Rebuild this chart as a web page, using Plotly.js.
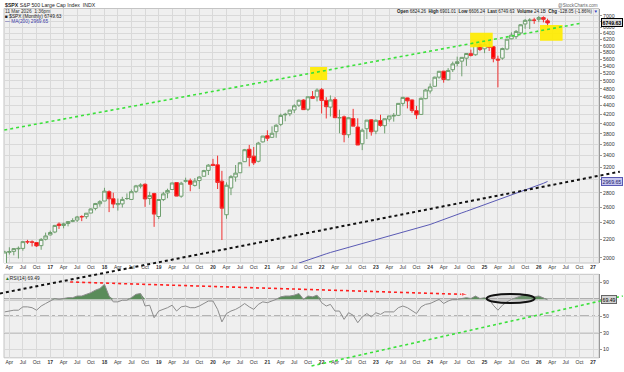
<!DOCTYPE html>
<html><head><meta charset="utf-8">
<script src="https://cdn.plot.ly/plotly-3.0.1.min.js"></script>
<style>html,body{margin:0;padding:0;background:#fff;}#chart{width:624px;height:372px;}</style>
</head><body><div id="chart"></div>
<script>
// ---------------- DATA ----------------
const firstMonth = '2016-03';
const open = [
1937,2057,2067,2094,2099,2173,2171,2164,2129,2201,
2251,2285,2381,2363,2388,2415,2431,2477,2474,2521,2583,2645,
2683,2816,2715,2633,2643,2718,2705,2821,2897,2926,2718,2790,
2476,2703,2798,2848,2953,2751,2972,2980,2909,2983,3050,3144,
3244,3236,2974,2499,2870,3038,3106,3289,3508,3385,3296,3645,
3764,3732,3842,3992,4193,4216,4300,4407,4528,4317,4610,4602,
4778,4519,4364,4540,4131,4150,3782,4113,3937,3610,3902,4087,
3853,4070,3964,4102,4166,4183,4450,4578,4530,4285,4202,4559,
4745,4861,5098,5258,5029,5298,5471,5538,5624,5758,5724,6040,
5904,5970,5969,5597,5625,5897,6218,6288,6410,6715,6840,6850,
6878,6940,6824.26];
const high = [
2073,2111,2103,2120,2178,2194,2188,2169,2214,2278,
2301,2371,2401,2399,2419,2454,2484,2491,2520,2582,2657,2695,
2873,2835,2801,2718,2742,2791,2848,2917,2941,2940,2815,2800,
2708,2813,2860,2950,2954,2964,3028,3014,3022,3050,3154,3248,
3338,3394,3137,2955,3068,3233,3280,3514,3588,3549,3646,3760,
3870,3950,3994,4219,4238,4302,4430,4538,4546,4608,4743,4808,
4819,4595,4637,4593,4307,4178,4140,4325,4119,3906,4080,4101,
4095,4195,4110,4170,4232,4458,4607,4584,4541,4393,4587,4794,
4932,5111,5265,5264,5342,5524,5669,5652,5768,5879,6053,6100,
6129,6147,5987,5696,5939,6215,6428,6508,6700,6890,6920,6935,
7002,6985,6901.01];
const low = [
1937,2033,2025,1992,2074,2148,2120,2115,2084,2188,
2245,2271,2322,2329,2353,2405,2407,2417,2446,2520,2557,2605,
2683,2533,2586,2553,2594,2698,2698,2796,2864,2603,2631,2347,
2444,2682,2722,2848,2751,2729,2952,2822,2892,2856,3050,3070,
3215,2855,2192,2447,2766,2966,3101,3284,3210,3234,3279,3633,
3663,3725,3723,3955,4056,4164,4233,4367,4306,4279,4560,4495,
4223,4115,4157,4124,3811,3637,3722,3955,3585,3492,3699,3765,
3794,3944,3809,4049,4048,4167,4385,4335,4238,4104,4197,4547,
4682,4853,5057,4954,5012,5235,5391,5120,5403,5674,5697,5833,
5773,5837,5505,4835,5578,5862,6201,6212,6360,6550,6540,6720,
6780,6770,6606.24];
const close = [
2060,2065,2097,2099,2174,2171,2168,2126,2199,2239,
2279,2364,2363,2384,2412,2423,2470,2472,2519,2575,2648,2674,
2824,2714,2641,2648,2705,2718,2816,2902,2914,2712,2760,2507,
2704,2784,2834,2946,2752,2942,2980,2926,2977,3038,3141,3231,
3226,2954,2585,2912,3044,3100,3271,3500,3363,3270,3622,3756,
3714,3811,3973,4181,4204,4298,4395,4523,4308,4605,4567,4766,
4516,4374,4530,4132,4132,3785,4130,3955,3586,3872,4080,3840,
4077,3970,4109,4169,4180,4450,4589,4508,4288,4194,4568,4770,
4846,5096,5254,5036,5278,5460,5522,5648,5762,5705,6032,5882,
6041,5955,5612,5569,5912,6205,6339,6460,6688,6840,6849,6845,
6940,6878,6749.63];
const rsi = [
55,56,57,57,61,61,60,57,62,65,
68,71,70,71,72,72,74,74,76,78,81,83,
88,74,67,67,69,69,72,76,77,62,63,48,
56,58,60,63,56,61,62,60,60,62,65,68,
68,58,43,53,56,58,61,65,61,58,64,67,
66,68,70,73,74,74,75,77,70,74,73,75,
66,62,64,56,56,46,54,51,42,49,53,49,
54,52,55,55,55,60,62,60,56,53,61,64,
65,68,70,65,68,70,70,71,72,71,74,71,
72,70,63,57,63,67,70,72,74,76,75,73,
74,72,69.49];
const maFirstMonth = '2021-08';
const ma200 = [
1945,1962,1979,1996,2013,
2027,2041,2055,2069,2083,2097,2111,2125,2139,2153,2167,2181,
2195,2210,2224,2239,2253,2268,2282,2297,2311,2326,2340,2355,
2376,2397,2418,2439,2460,2481,2502,2523,2544,2565,2586,2607,
2630,2653,2676,2699,2722,2745,2768,2791,2814,2837,2860,2883,
2912,2941,2969.65];
// analyst drawings (date, value)
const upperTrendDates = ['2016-02-27','2026-10-18'];
const upperTrendVals  = [3876, 6747];
const lowerTrendDates = ['2016-01-29','2027-06-30'];
const lowerTrendVals  = [1662, 3124];
const rsiTrendDates = ['2021-10-25','2027-07-20'];
const rsiTrendVals  = [-9.8, 74];
const divergenceDates = ['2017-05-15','2024-09-12'];
const divergenceVals  = [90.8, 75.8];
const highlightX = [['2021-10-15','2022-02-07'],['2024-09-26','2025-02-25'],['2026-01-09','2026-06-10']];
const highlightY = [[5022,5372],[5949,6418],[6155,6678]];
const ellipseX = ['2025-01-15','2025-12-04'];
const ellipseY = [65.5, 76.5];
const priceTicks = [2000,2200,2400,2600,2800,3000,3200,3400,3600,3800,4000,4200,4400,4600,4800,5000,5200,5400,5600,5800,6000,6200,6400,6600,6800,7000];
const priceTicksHidden = [3000,6800];   // covered by value boxes in the reference
const rsiTicks = [10,30,50,70,90];
const rsiTicksHidden = [70];
const quarterNames = ['Apr','Jul','Oct'];
const yearLabels = ['17','18','19','20','21','22','23','24','25','26','27'];

// ---------------- helpers ----------------
function monthSeq(start, n){
  const out=[]; let y=+start.slice(0,4), m=+start.slice(5,7);
  for(let i=0;i<n;i++){ out.push(y+'-'+String(m).padStart(2,'0')+'-01'); m++; if(m>12){m=1;y++;} }
  return out;
}
const months = monthSeq(firstMonth, close.length);
const maMonths = monthSeq(maFirstMonth, ma200.length);

const tickVals=[], tickText=[];
for(let y=2016;y<=2027;y++){
  if(y>2016){ tickVals.push(y+'-01-01'); tickText.push('<b>'+yearLabels[y-2017]+'</b>'); }
  if(y<2027){ ['04','07','10'].forEach((mm,i)=>{ tickVals.push(y+'-'+mm+'-01'); tickText.push(quarterNames[i]); }); }
}

// ---------------- layout geometry ----------------
const W=624,H=372;
const PX_L=4, PX_R=599, MAIN_TOP=8.5, MAIN_BOT=263, RSI_TOP=274.3, RSI_BOT=357.8;
const xRange=['2016-02-25','2027-02-10'];
const priceRange=[1946,7275];
const xDom=[PX_L/W, PX_R/W];
const yDomMain=[1-MAIN_BOT/H, 1-MAIN_TOP/H];
const yDomRsi=[1-RSI_BOT/H, 1-RSI_TOP/H];
const t0=Date.parse(xRange[0]), t1=Date.parse(xRange[1]);
const msPerPx=(t1-t0)/(PX_R-PX_L);
const fmt=ms=>new Date(ms).toISOString().slice(0,19).replace('T',' ');
const x3Range=[fmt(t0-PX_L*msPerPx), fmt(t1+(W-PX_R)*msPerPx)];
const la=Math.log10(priceRange[0]), lb=Math.log10(priceRange[1]);
const lpp=(lb-la)/(MAIN_BOT-MAIN_TOP);
const y3Range=[la-(H-MAIN_BOT)*lpp, lb+MAIN_TOP*lpp];
const rpp=100/(RSI_BOT-RSI_TOP);
const y4Range=[0-(H-RSI_BOT)*rpp, 100+RSI_TOP*rpp];

const FONT='"Liberation Sans", Arial, sans-serif';
const GRID='#d9d9d9';

// ---------------- traces ----------------
const traces=[];
highlightX.forEach((hx,i)=>{
  const hy=highlightY[i];
  traces.push({type:'scatter', mode:'lines', x:[hx[0],hx[1],hx[1],hx[0],hx[0]], y:[hy[0],hy[0],hy[1],hy[1],hy[0]],
    xaxis:'x', yaxis:'y', fill:'toself', fillcolor:'rgba(255,236,0,0.92)', line:{width:0,color:'rgba(0,0,0,0)'}, hoverinfo:'skip'});
});
traces.push(
 {type:'candlestick', x:months, open:open, high:high, low:low, close:close, xaxis:'x', yaxis:'y',
  increasing:{line:{color:'#6f9f6f',width:1}, fillcolor:'#f6f6f6'},
  decreasing:{line:{color:'#f03030',width:1}, fillcolor:'#ff0000'},
  whiskerwidth:0, hoverinfo:'skip'},
 {type:'scatter', mode:'lines', x:maMonths, y:ma200, xaxis:'x', yaxis:'y', line:{color:'#5a5ab4',width:1}, hoverinfo:'skip'},
 {type:'scatter', mode:'lines', x:upperTrendDates, y:upperTrendVals, xaxis:'x', yaxis:'y', line:{color:'#3be03b',width:1.6,dash:'dot'}, hoverinfo:'skip'},
 {type:'scatter', mode:'lines', x:months, y:months.map(()=>70), xaxis:'x2', yaxis:'y2', line:{width:0,color:'rgba(0,0,0,0)'}, hoverinfo:'skip'},
 {type:'scatter', mode:'lines', x:months, y:rsi.map(v=>Math.max(v,70)), xaxis:'x2', yaxis:'y2', fill:'tonexty', fillcolor:'#5a8c5a', line:{width:0,color:'rgba(0,0,0,0)'}, hoverinfo:'skip'},
 {type:'scatter', mode:'lines', x:months, y:rsi, xaxis:'x2', yaxis:'y2', line:{color:'#8c8c8c',width:1}, hoverinfo:'skip'},
 {type:'scatter', mode:'lines+markers', x:divergenceDates, y:divergenceVals, xaxis:'x2', yaxis:'y2',
  line:{color:'#ff2020',width:1.6,dash:'dot'}, marker:{symbol:['circle','arrow'],size:[0,7],color:'#ff2020',angleref:'previous'}, hoverinfo:'skip'},
 {type:'scatter', mode:'lines', x:lowerTrendDates, y:lowerTrendVals, xaxis:'x3', yaxis:'y3', line:{color:'#111',width:2,dash:'dot'}, hoverinfo:'skip'},
 {type:'scatter', mode:'lines', x:rsiTrendDates, y:rsiTrendVals, xaxis:'x3', yaxis:'y4', line:{color:'#3be03b',width:1.6,dash:'dot'}, hoverinfo:'skip'}
);

// ---------------- shapes ----------------
const shapes=[
 {type:'rect', xref:'paper', yref:'paper', x0:xDom[0], x1:xDom[1], y0:yDomMain[0], y1:yDomMain[1], fillcolor:'#efefef', line:{color:'#c4c4c4',width:1}, layer:'below'},
 {type:'rect', xref:'paper', yref:'paper', x0:xDom[0], x1:xDom[1], y0:yDomRsi[0], y1:yDomRsi[1], fillcolor:'#efefef', line:{color:'#c4c4c4',width:1}, layer:'below'},
 {type:'line', xref:'x2 domain', yref:'y2', x0:0, x1:1, y0:70, y1:70, line:{color:'#6e6e6e',width:1.6}, layer:'below'},
 {type:'line', xref:'x2 domain', yref:'y2', x0:0, x1:1, y0:50, y1:50, line:{color:'#6e6e6e',width:1,dash:'dashdot'}, layer:'below'},
 {type:'line', xref:'x2 domain', yref:'y2', x0:0, x1:1, y0:30, y1:30, line:{color:'#a0a0a0',width:1.6}, layer:'below'},
 {type:'circle', xref:'x2', yref:'y2', x0:ellipseX[0], x1:ellipseX[1], y0:ellipseY[0], y1:ellipseY[1], line:{color:'#111',width:2}, fillcolor:'rgba(160,160,160,0.25)', layer:'above'}
];

// ---------------- annotations ----------------
const ann=(x,y,text,opt)=>Object.assign({xref:'paper',yref:'paper',x:x/W,y:1-y/H,text:text,showarrow:false,xanchor:'left',yanchor:'middle',font:{family:FONT,size:5,color:'#222'}},opt||{});
const lastClose=close[close.length-1], lastMA=ma200[ma200.length-1], lastRSI=rsi[rsi.length-1];
const annotations=[
 ann(3,5.5,'<b>$SPX</b> S&P 500 Large Cap Index  INDX',{font:{family:FONT,size:5.2,color:'#222'}}),
 ann(3,11.5,'11 Mar 2026  1:36pm',{font:{family:FONT,size:4.8,color:'#333'}}),
 ann(600,6,'@StockCharts.com',{xanchor:'right',font:{family:FONT,size:4.6,color:'#666'}}),
 ann(600,12,'<b>Open</b> 6824.26  <b>High</b> 6901.01  <b>Low</b> 6606.24  <b>Last</b> 6749.63  <b>Volume</b> 24.1B  <b>Chg</b> -128.05 (-1.86%) <span style="color:#3040c0">▼</span>',{xanchor:'right',font:{family:FONT,size:4.5,color:'#222'}}),
 ann(3,16.5,'<span style="color:#222">■</span> $SPX (Monthly) '+lastClose.toFixed(2),{font:{family:FONT,size:4.8,color:'#222'}}),
 ann(3,21.5,'— MA(200) '+lastMA.toFixed(2),{font:{family:FONT,size:4.8,color:'#3a3aa8'}}),
 ann(3,278,'<span style="color:#2a7a2a">▲</span>RSI(14) '+lastRSI.toFixed(2),{font:{family:FONT,size:4.8,color:'#222'}}),
 {xref:'paper',yref:'y',x:600.5/W,y:Math.log10(lastClose),text:'<b>'+lastClose.toFixed(2)+'</b>',showarrow:false,xanchor:'left',yanchor:'middle',
  font:{family:FONT,size:5.2,color:'#000'},bgcolor:'#dcdcdc',bordercolor:'#000',borderwidth:1,borderpad:0.5},
 {xref:'paper',yref:'y',x:600.5/W,y:Math.log10(lastMA),text:lastMA.toFixed(2),showarrow:false,xanchor:'left',yanchor:'middle',
  font:{family:FONT,size:5.2,color:'#1a1a6a'},bgcolor:'#c8c8f0',bordercolor:'#5a5ab4',borderwidth:1,borderpad:0.5},
 {xref:'paper',yref:'y2',x:600.5/W,y:lastRSI,text:lastRSI.toFixed(2),showarrow:false,xanchor:'left',yanchor:'middle',
  font:{family:FONT,size:5.2,color:'#000'},bgcolor:'#d4d4d4',bordercolor:'#666',borderwidth:1,borderpad:0.5}
];

const xBase={type:'date', range:xRange, domain:xDom, tickvals:tickVals, ticktext:tickText, tickfont:{family:FONT,size:5,color:'#333'},
  showgrid:true, gridcolor:GRID, gridwidth:1, zeroline:false, ticks:'', showline:false, fixedrange:true, tickangle:0, automargin:false};
const layout={
 width:W, height:H, margin:{l:0,r:0,t:0,b:0}, paper_bgcolor:'#ffffff', plot_bgcolor:'rgba(0,0,0,0)',
 showlegend:false, font:{family:FONT,size:5,color:'#333'}, boxgap:0.15, boxgroupgap:0,
 xaxis:Object.assign({},xBase,{anchor:'y', rangeslider:{visible:false}}),
 yaxis:{type:'log', domain:yDomMain, anchor:'x', range:[la,lb], side:'right', tickvals:priceTicks,
   ticktext:priceTicks.map(v=>priceTicksHidden.includes(v)?'':String(v)),
   tickfont:{family:FONT,size:5.2,color:'#333'}, showgrid:true, gridcolor:GRID, zeroline:false, ticks:'outside', ticklen:2, tickcolor:'#999',
   showline:true, linecolor:'#9a9a9a', linewidth:1, fixedrange:true, automargin:false},
 xaxis2:Object.assign({},xBase,{anchor:'y2', matches:'x'}),
 yaxis2:{domain:yDomRsi, anchor:'x2', range:[0,100], side:'right', tickvals:rsiTicks,
   ticktext:rsiTicks.map(v=>rsiTicksHidden.includes(v)?'':String(v)),
   tickfont:{family:FONT,size:5.2,color:'#333'}, showgrid:true, gridcolor:GRID, zeroline:false, ticks:'outside', ticklen:2, tickcolor:'#999',
   showline:true, linecolor:'#9a9a9a', linewidth:1, fixedrange:true, automargin:false},
 xaxis3:{type:'date', domain:[0,1], anchor:'y3', range:x3Range, visible:false, fixedrange:true},
 yaxis3:{type:'log', domain:[0,1], anchor:'x3', range:y3Range, visible:false, fixedrange:true},
 yaxis4:{domain:[0,1], anchor:'x3', overlaying:'y3', range:y4Range, visible:false, fixedrange:true},
 shapes:shapes, annotations:annotations
};
Plotly.newPlot('chart', traces, layout, {staticPlot:true, displayModeBar:false});
</script></body></html>
